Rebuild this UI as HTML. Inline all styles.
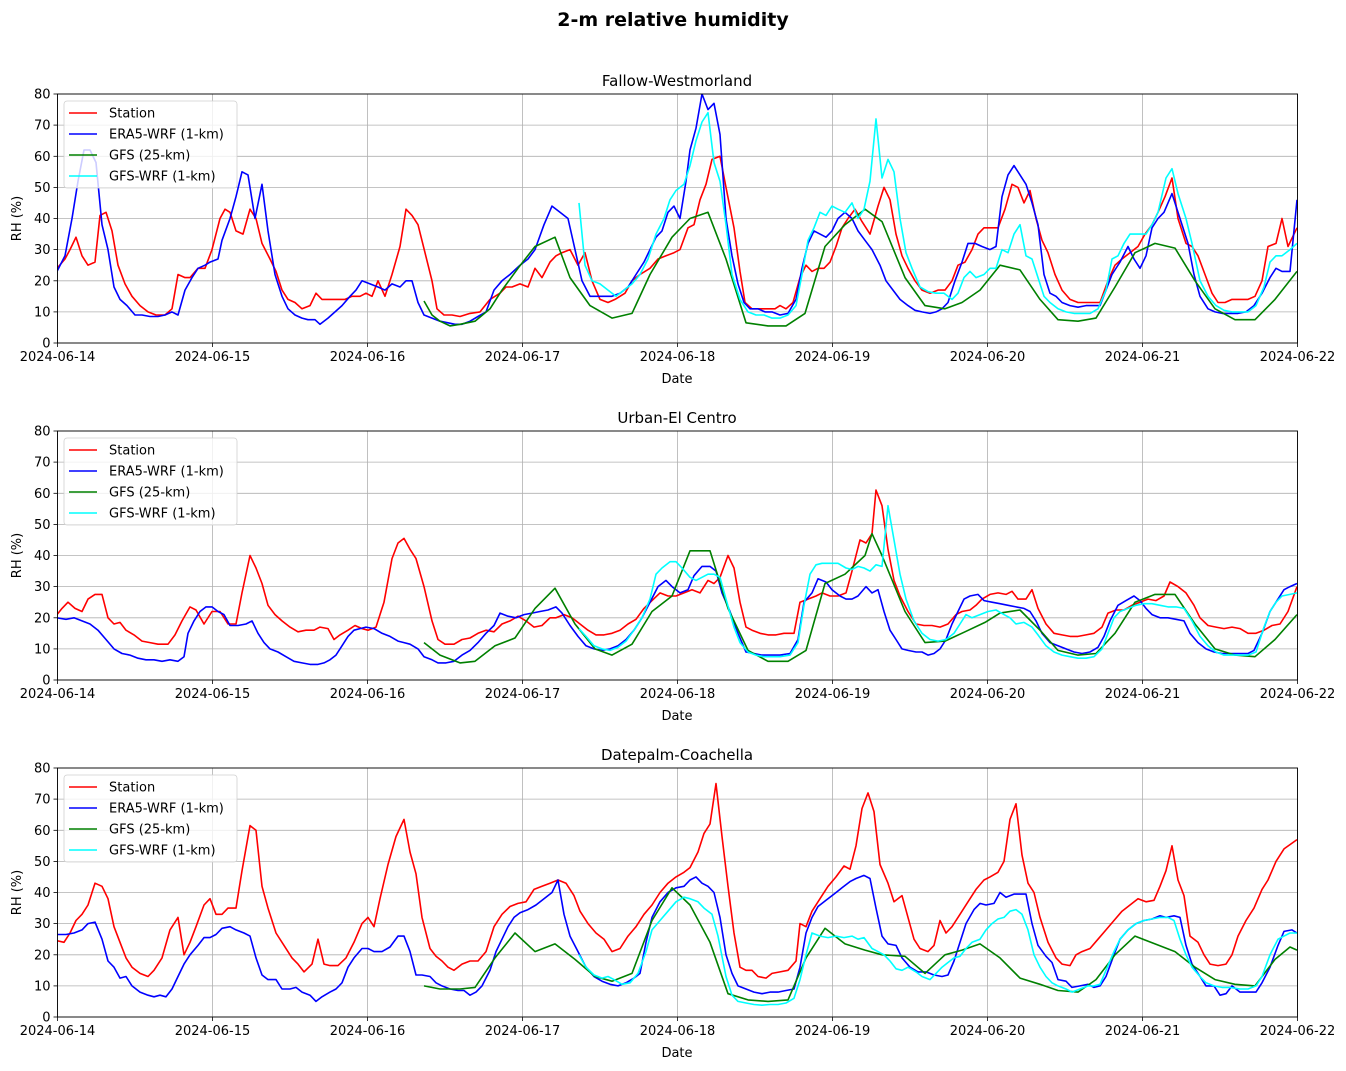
<!DOCTYPE html>
<html><head><meta charset="utf-8"><style>
html,body{margin:0;padding:0;background:#fff;}
svg{display:block;font-family:"DejaVu Sans","Liberation Sans",sans-serif;}
</style></head><body>
<svg id="s" width="1346" height="1071" viewBox="0 0 1346 1071" xmlns="http://www.w3.org/2000/svg">
<rect width="1346" height="1071" fill="#fff"/>
<text x="673" y="26" text-anchor="middle" font-size="19" font-weight="bold">2-m relative humidity</text>
</svg>
<script>
const L=57.5,R=1297.5,H=249;
const tops=[94,431,768];
const titles=["Fallow-Westmorland","Urban-El Centro","Datepalm-Coachella"];
const P=s=>s.trim().split(/\s*,\s*/).map(p=>p.split(':').map(Number));
const D=[
[
P(`57:24, 65:27, 70:30, 76:34, 82:28, 88:25, 95:26, 100:41, 106:42, 112:36, 118:25, 125:19, 132:15, 140:12, 148:10, 156:9, 165:9, 172:11, 178:22, 185:21, 190:21, 198:24, 205:24, 212:30, 220:40, 225:43, 230:42, 236:36, 243:35, 250:43, 256:40, 262:32, 270:27, 276:23, 282:17, 288:14, 295:13, 302:11, 310:12, 316:16, 322:14, 330:14, 338:14, 345:14, 352:15, 360:15, 366:16, 372:15, 378:20, 385:15, 392:22, 400:31, 406:43, 412:41, 418:38, 425:29, 432:20, 437:11, 444:9, 452:9, 460:8.5, 470:9.5, 480:10, 490:14, 500:16, 506:18, 512:18, 520:19, 528:18, 535:24, 542:21, 550:26, 556:28, 562:29, 570:30, 578:25, 585:29, 592:20, 600:14, 608:13, 615:14, 625:16, 632:20, 640:22, 650:24, 658:27, 666:28, 674:29, 680:30, 688:37, 694:38, 700:46, 706:51, 712:59, 720:60, 726:50, 734:37, 740:23, 745:13, 752:11, 760:11, 768:11, 775:11, 780:12, 786:11, 793:13, 800:21, 806:25, 812:23, 818:24, 824:24, 830:26, 836:31, 842:37, 848:40, 855:43, 862:39, 870:35, 878:44, 884:50, 890:46, 896:35, 902:28, 908:24, 915:20, 922:17, 930:16, 938:17, 945:17, 952:20, 958:25, 965:26, 972:30, 978:35, 984:37, 992:37, 998:37, 1005:43, 1012:51, 1018:50, 1024:45, 1030:49, 1036:40, 1042:33, 1048:29, 1055:22, 1062:17, 1070:14, 1078:13, 1085:13, 1092:13, 1100:13, 1108:20, 1115:25, 1122:27, 1130:29, 1138:31, 1145:35, 1152:38, 1158:42, 1165:47, 1172:53, 1178:40, 1186:32, 1192:31, 1198:28, 1205:22, 1212:16, 1218:13, 1225:13, 1232:14, 1240:14, 1248:14, 1255:15, 1262:20, 1268:31, 1276:32, 1282:40, 1288:31, 1297:37`),
P(`57:23, 65:28, 72:40, 78:52, 84:62, 90:62, 96:58, 102:38, 108:30, 114:18, 120:14, 127:12, 135:9, 142:9, 150:8.5, 158:8.5, 165:9, 172:10, 178:9, 185:17, 192:21, 198:24, 205:25, 210:26, 218:27, 222:33, 230:40, 236:47, 242:55, 248:54, 255:40, 262:51, 268:36, 275:22, 282:15, 288:11, 295:9, 302:8, 308:7.5, 315:7.5, 320:6, 328:8, 335:10, 342:12, 350:15, 356:17, 362:20, 370:19, 378:18, 385:17, 392:19, 400:18, 406:20, 412:20, 418:13, 424:9, 432:8, 440:7, 448:6.5, 455:6, 462:6, 470:7, 478:8.5, 486:10, 494:17, 502:20, 510:22, 520:25, 528:27, 535:30, 544:38, 552:44, 560:42, 568:40, 575:30, 582:20, 590:15, 598:15, 604:15, 612:15, 620:16, 628:18, 636:22, 644:26, 650:30, 656:34, 662:36, 668:42, 674:44, 680:40, 686:52, 690:62, 696:69, 702:80, 708:75, 714:77, 720:67, 726:40, 732:28, 738:19, 744:13, 750:11, 758:11, 765:10, 772:10, 780:9, 788:9.5, 796:14, 802:24, 808:32, 814:36, 820:35, 826:34, 832:36, 838:40, 845:42, 852:40, 858:36, 865:33, 872:30, 880:25, 886:20, 893:17, 900:14, 908:12, 915:10.5, 922:10, 930:9.5, 936:10, 942:11, 948:13, 955:20, 962:26, 968:32, 975:32, 982:31, 990:30, 996:31, 1002:47, 1008:54, 1014:57, 1020:54, 1026:51, 1032:45, 1038:38, 1044:22, 1050:16, 1056:15, 1062:13, 1070:12, 1078:11.5, 1086:12, 1094:12, 1100:12, 1106:17, 1112:22, 1120:26, 1128:31, 1134:27, 1140:24, 1146:28, 1152:37, 1158:40, 1164:42, 1172:48, 1180:40, 1188:32, 1194:22, 1200:15, 1208:11, 1215:10, 1222:9.5, 1230:9.5, 1238:9.5, 1246:10, 1254:12, 1262:16, 1270:21, 1276:24, 1282:23, 1290:23, 1297:46`),
P(`424:13.5, 432:9, 440:7, 450:5.5, 460:6, 475:7, 490:11, 502:17, 518:24, 535:31, 555:34, 570:21, 590:12, 612:8, 632:9.5, 650:22, 672:34, 690:40, 708:42, 726:27, 746:6.5, 768:5.5, 786:5.5, 805:9.5, 825:31, 845:38, 865:43, 882:39, 905:21, 925:12, 945:11, 962:13, 980:17, 1000:25, 1020:23.5, 1040:14, 1058:7.5, 1078:7, 1096:8, 1115:18, 1135:29, 1155:32, 1175:30.5, 1195:20, 1215:11, 1235:7.5, 1255:7.5, 1275:14, 1297:23`),
P(`579:45, 585:25, 592:20, 600:19, 608:17, 616:15, 624:17, 632:19, 640:22, 648:27, 656:35, 664:40, 670:46, 676:49, 684:51, 690:57, 696:65, 702:71, 708:74, 714:58, 720:52, 726:38, 732:22, 740:14, 748:10, 756:9, 764:9, 772:8, 780:8, 788:9, 796:12, 802:22, 808:33, 814:37, 820:42, 826:41, 832:44, 838:43, 845:42, 852:45, 858:40, 864:43, 870:52, 876:72, 882:53, 888:59, 894:55, 900:40, 906:29, 912:24, 920:18, 928:16.5, 936:16, 944:16, 952:14, 958:16, 964:21, 970:23, 976:21, 984:22, 990:24, 996:24, 1002:30, 1008:29, 1014:35, 1020:38, 1026:28, 1032:27, 1038:21, 1044:15, 1050:13, 1058:11, 1066:10, 1074:9.5, 1082:9.5, 1090:9.5, 1098:11, 1106:17, 1112:27, 1118:28, 1124:32, 1130:35, 1138:35, 1146:35, 1152:38, 1158:42, 1166:53, 1172:56, 1178:48, 1186:40, 1192:32, 1200:20, 1208:15, 1216:12, 1224:10.5, 1232:10, 1240:10, 1248:10, 1256:12, 1264:18, 1270:26, 1276:28, 1282:28, 1290:30, 1297:32`)
],[
P(`57:21, 62:23, 68:25, 75:23, 82:22, 88:26, 95:27.5, 102:27.5, 108:20, 114:18, 120:18.5, 126:16, 134:14.5, 142:12.5, 150:12, 158:11.5, 168:11.5, 175:14.5, 182:19, 190:23.5, 196:22.5, 204:18, 212:22, 220:22, 228:18, 236:18, 242:28, 250:40, 256:36, 262:31, 268:24, 275:21, 282:19, 290:17, 298:15.5, 306:16, 314:16, 320:17, 328:16.5, 334:13, 340:14.5, 348:16, 355:17.5, 362:16.5, 368:16, 376:17, 384:25, 392:39, 398:44, 404:45.5, 410:42, 416:39, 424:30, 432:19, 438:13, 445:11.5, 454:11.5, 462:13, 470:13.5, 478:15, 486:16, 494:15.5, 502:18, 510:19, 518:20.5, 526:19, 534:17, 542:17.5, 550:20, 556:20, 564:21, 572:20, 580:18, 588:16, 596:14.5, 604:14.5, 612:15, 620:16, 628:18, 636:19.5, 644:23, 652:25.5, 660:28, 668:27, 676:27, 684:28, 692:29, 700:28, 708:32, 714:31, 720:33, 728:40, 734:36, 740:25, 746:17, 752:16, 760:15, 768:14.5, 776:14.5, 784:15, 794:15, 800:25, 808:26, 816:27, 822:28, 830:27, 838:27, 846:28, 852:35, 860:45, 866:44, 872:47, 876:61, 882:56, 888:42, 894:32, 900:27, 908:22, 916:18, 924:17.5, 932:17.5, 940:17, 948:18, 956:21, 962:22, 970:22.5, 976:24, 982:26, 990:27.5, 998:28, 1006:27.5, 1012:28.5, 1018:26, 1026:26, 1032:29, 1038:23, 1046:18, 1054:15, 1062:14.5, 1070:14, 1078:14, 1086:14.5, 1094:15, 1102:17, 1108:21.5, 1116:22.5, 1124:22.5, 1132:24, 1140:25, 1148:26, 1156:25.5, 1164:27, 1170:31.5, 1178:30, 1186:28, 1194:24, 1200:20, 1208:17.5, 1216:17, 1224:16.5, 1232:17, 1240:16.5, 1248:15, 1256:15, 1264:16, 1272:17.5, 1280:18, 1288:22, 1297:30`),
P(`57:20, 66:19.5, 74:20, 82:19, 90:18, 98:16, 106:13, 114:10, 122:8.5, 130:8, 138:7, 146:6.5, 154:6.5, 162:6, 170:6.5, 178:6, 184:7.5, 188:15, 194:19, 200:22, 206:23.5, 212:23.5, 218:22, 224:21, 230:17.5, 238:17.5, 246:18, 252:19, 258:15, 264:12, 270:10, 278:9, 286:7.5, 294:6, 302:5.5, 310:5, 318:5, 324:5.5, 330:6.5, 336:8, 342:11, 348:14, 354:16, 360:16.5, 366:17, 374:16.5, 382:15, 390:14, 398:12.5, 404:12, 410:11.5, 418:10, 424:7.5, 432:6.5, 438:5.5, 446:5.5, 454:6, 462:8, 470:9.5, 478:12, 486:15, 494:17.5, 500:21.5, 508:20.5, 516:20, 524:21, 532:21.5, 540:22, 548:22.5, 556:23.5, 562:21.5, 570:17.5, 578:14, 586:11, 594:10, 602:9.5, 610:10, 618:11, 626:13, 634:16, 642:20, 650:25, 658:30, 666:32, 672:30, 680:28, 688:29, 694:33.5, 702:36.5, 710:36.5, 716:35, 722:28, 730:22, 738:15, 746:9, 754:8.5, 762:8, 770:8, 780:8, 790:8.5, 798:13, 804:25, 812:28, 818:32.5, 826:31.5, 832:29, 840:27, 846:26, 852:26, 858:27, 866:30, 872:28, 878:29, 884:22, 890:16, 896:13, 902:10, 908:9.5, 916:9, 922:9, 928:8, 934:8.5, 940:10, 946:13, 952:18, 958:22, 964:26, 970:27, 978:27.5, 984:25.5, 992:25, 1000:24.5, 1008:24, 1016:23.5, 1024:23, 1030:22, 1036:19, 1042:15, 1050:12, 1058:11, 1066:10, 1074:9, 1082:8.5, 1090:9, 1098:10.5, 1104:14, 1110:19, 1118:24, 1126:25.5, 1134:27, 1140:25.5, 1146:23, 1152:21, 1160:20, 1168:20, 1176:19.5, 1184:19, 1190:15, 1198:12, 1206:10, 1214:9, 1222:8.5, 1230:8.5, 1240:8.5, 1248:8.5, 1254:9.5, 1262:15, 1270:22, 1278:26, 1284:29, 1290:30, 1297:31`),
P(`424:12, 440:8, 460:5.5, 475:6, 495:11, 515:13.5, 535:23, 555:29.5, 575:18, 595:10, 612:8, 632:11.5, 652:22, 672:27, 690:41.5, 710:41.5, 728:23, 748:9.5, 768:6, 788:6, 806:9.5, 825:31, 845:34, 865:40, 872:47, 882:40, 905:22, 925:12, 945:12.5, 965:15.5, 985:18.5, 1000:21.5, 1020:22.5, 1040:16, 1058:9.5, 1078:8, 1096:8.5, 1115:15, 1135:25, 1155:27.5, 1175:27.5, 1195:18, 1215:10, 1235:8, 1255:7.5, 1275:13, 1297:21`),
P(`579:16.5, 586:14, 594:11, 602:10, 610:9.5, 618:10.5, 626:12.5, 634:16, 642:20, 650:26, 656:34, 662:36, 670:38, 676:38, 682:36, 690:33, 696:32, 702:33, 708:34, 714:34, 720:33, 726:26, 734:17, 740:12, 748:9, 756:8, 764:7.5, 772:7.5, 780:7.5, 790:8, 798:12, 804:24, 810:34, 816:37, 822:37.5, 830:37.5, 838:37.5, 846:36, 852:35.5, 858:36.5, 864:36, 870:35, 876:37, 882:36.5, 888:56, 894:45, 900:34, 906:26, 914:19, 922:15, 930:13, 938:12.5, 946:13, 954:15, 960:18, 966:21, 972:20, 980:21, 988:22, 996:22.5, 1004:21, 1010:20, 1016:18, 1024:18.5, 1032:17, 1038:14.5, 1046:11, 1054:9, 1062:8, 1070:7.5, 1078:7, 1086:7, 1094:7.5, 1102:10, 1108:15, 1114:20, 1120:22, 1128:23, 1136:24, 1144:24.5, 1152:24.5, 1160:24, 1168:23.5, 1176:23.5, 1184:23, 1192:19, 1200:14, 1208:11, 1216:9, 1224:8, 1232:8, 1240:8, 1248:8, 1256:9, 1264:17, 1270:22, 1276:25, 1282:27, 1290:27.5, 1297:28`)
],[
P(`57:24.5, 64:24, 70:27, 76:31, 82:33, 88:36, 95:43, 102:42, 108:38, 114:29, 120:24, 126:19, 132:16, 140:14, 148:13, 154:15, 162:19, 170:28, 178:32, 184:20, 190:24, 196:29, 204:36, 210:38, 216:33, 222:33, 228:35, 236:35, 242:47, 250:61.5, 256:60, 262:42, 268:35, 276:27, 284:23, 292:19, 298:17, 304:14.5, 312:17, 318:25, 324:17, 330:16.5, 338:16.5, 346:19, 354:24, 362:30, 368:32, 374:29, 380:38, 388:49, 396:58, 404:63.5, 410:53, 416:46, 422:32, 430:22, 436:19.5, 442:18, 448:16, 454:15, 462:17, 470:18, 478:18, 486:21, 494:29, 502:33, 510:35.5, 518:36.5, 526:37, 534:41, 542:42, 550:43, 558:44, 566:43, 574:39, 580:34, 588:30, 596:27, 604:25, 612:21, 620:22, 628:26, 636:29, 644:33, 652:36, 660:40, 668:43, 676:45, 684:46.5, 690:48, 698:53, 704:59, 710:62, 716:75, 722:58, 728:42, 734:27, 740:16, 746:15, 752:15, 758:13, 766:12.5, 772:14, 780:14.5, 788:15, 796:18, 800:30, 806:29, 812:34, 820:38, 828:42, 836:45, 844:48.5, 850:47.5, 856:55, 862:67, 868:72, 874:66, 880:49, 888:43, 894:37, 902:39, 908:32, 914:25, 920:22, 928:21, 934:23, 940:31, 946:27, 952:29, 960:33, 968:37, 976:41, 984:44, 990:45, 998:46.5, 1004:50, 1010:63.5, 1016:68.5, 1022:52, 1028:43, 1034:40, 1040:32, 1048:24, 1056:19, 1062:17, 1070:16.5, 1076:20, 1082:21, 1090:22, 1098:25, 1106:28, 1114:31, 1122:34, 1130:36, 1138:38, 1146:37, 1154:37.5, 1160:42, 1166:47, 1172:55, 1178:44, 1184:39, 1190:26, 1198:24, 1204:20, 1210:17, 1218:16.5, 1226:17, 1232:20, 1238:26, 1246:31, 1254:35, 1262:41, 1268:44, 1276:50, 1284:54, 1297:57`),
P(`57:26.5, 66:26.5, 74:27, 82:28, 88:30, 95:30.5, 102:25, 108:18, 114:16, 120:12.5, 126:13, 132:10, 140:8, 148:7, 154:6.5, 160:7, 166:6.5, 172:9, 178:13, 184:17, 190:20, 198:23, 204:25.5, 210:25.5, 216:26.5, 222:28.5, 230:29, 236:28, 244:27, 250:26, 256:19, 262:13.5, 268:12, 276:12, 282:9, 290:9, 296:9.5, 302:8, 310:7, 316:5, 322:6.5, 330:8, 336:9, 342:11, 348:16, 354:19, 362:22, 368:22, 374:21, 382:21, 390:22.5, 398:26, 404:26, 410:21, 416:13.5, 422:13.5, 430:13, 436:11, 442:10, 450:9, 458:8.5, 464:8.5, 470:7, 476:8, 482:10, 490:15, 496:21, 502:25, 508:29, 514:32, 520:33.5, 528:34.5, 536:36, 544:38, 552:40, 558:44, 564:33, 570:26, 578:21, 586:16, 594:13, 602:11.5, 610:10.5, 618:10, 626:11, 634:12.5, 640:14, 646:24, 652:32, 660:37, 668:40, 676:41.5, 684:42, 690:44, 696:45, 702:43, 708:42, 714:40, 720:32, 726:20, 732:14, 738:10, 746:9, 754:8, 762:7.5, 770:8, 778:8, 786:8.5, 794:9, 800:16, 806:27, 812:32, 818:35.5, 826:37.5, 834:39.5, 842:41.5, 850:43.5, 856:44.5, 864:45.5, 870:44.5, 876:35, 882:26, 888:23.5, 896:23, 902:19, 910:16, 918:14.5, 926:14.5, 934:13.5, 942:13, 948:13.5, 954:18, 960:24, 966:30, 974:34.5, 980:36.5, 986:36, 994:36.5, 1000:40, 1006:38.5, 1014:39.5, 1020:39.5, 1026:39.5, 1032:30, 1038:23, 1046:19.5, 1052:17.5, 1058:12, 1066:11.5, 1072:9.5, 1080:10, 1088:10.5, 1094:9.5, 1100:10, 1106:13, 1114:20, 1120:25, 1128:28, 1136:30, 1144:31, 1152:31.5, 1160:32.5, 1166:32, 1174:32.5, 1180:32, 1186:23, 1192:17, 1200:13, 1206:10, 1214:10, 1220:7, 1226:7.5, 1232:10, 1240:8, 1248:8, 1256:8, 1262:11, 1270:16, 1278:23, 1284:27.5, 1292:28, 1297:27`),
P(`424:10, 440:9, 460:9, 475:9.5, 495:19, 515:27, 535:21, 555:23.5, 575:18.5, 595:13, 612:11.5, 632:14, 652:31, 672:41.5, 690:36, 710:24, 728:7.5, 748:5.5, 768:5, 788:5.5, 806:19, 825:28.5, 845:23.5, 865:21.5, 882:20, 905:19.5, 925:14, 945:20, 962:21.5, 980:23.5, 1000:19, 1020:12.5, 1040:10.5, 1058:8.5, 1078:8, 1096:12, 1115:20, 1135:26, 1155:23.5, 1175:21, 1195:16, 1215:12, 1235:10.5, 1255:10, 1275:18.5, 1290:22.5, 1297:21.5`),
P(`579:20, 586:16, 594:13.5, 602:12.5, 608:13, 614:12, 622:10.5, 630:11, 638:14, 646:21, 652:28, 660:31, 668:34, 676:37, 684:38.5, 690:38, 698:37, 704:35, 712:33, 718:26, 726:13, 732:7, 738:5, 746:4.5, 754:4, 762:3.8, 770:4, 778:4, 786:4.5, 794:6, 800:12, 806:20, 812:27, 820:26, 828:25.5, 836:26, 844:25.5, 852:26, 858:25, 864:25.5, 872:22, 878:21, 884:20, 890:18, 896:15.5, 902:15, 908:16, 916:14.5, 922:13, 930:12, 936:14, 942:16, 948:17.5, 954:19, 960:19.5, 966:22, 972:24, 980:25, 986:28, 992:30, 998:31.5, 1004:32, 1010:34, 1016:34.5, 1022:33, 1028:28, 1034:20, 1040:16, 1046:13, 1052:11, 1058:10, 1066:9, 1072:8, 1080:9, 1088:10, 1094:10, 1100:10.5, 1106:15, 1114:21, 1120:25, 1128:28, 1136:30, 1144:31, 1152:31.5, 1160:32, 1168:32, 1174:31, 1180:25, 1186:20, 1192:16, 1200:13, 1206:11, 1214:10, 1222:9.5, 1230:9.5, 1240:9, 1248:9, 1256:10, 1262:13, 1270:20, 1278:25, 1284:26, 1290:27, 1297:27`)
]];
const cols=["#ff0000","#0000ff","#008000","#00ffff"];
const names=["Station","ERA5-WRF (1-km)","GFS (25-km)","GFS-WRF (1-km)"];
const dates=["2024-06-14","2024-06-15","2024-06-16","2024-06-17","2024-06-18","2024-06-19","2024-06-20","2024-06-21","2024-06-22"];
let h='';
tops.forEach((T,i)=>{
  const B=T+H, y=v=>(B-v*H/80).toFixed(1);
  h+=`<text x="677" y="${T-8}" text-anchor="middle" font-size="15">${titles[i]}</text>`;
  h+=`<defs><clipPath id="c${i}"><rect x="${L}" y="${T}" width="${R-L}" height="${H}"/></clipPath></defs>`;
  for(let d=0;d<=8;d++){const x=L+d*(R-L)/8;
    h+=`<line x1="${x}" y1="${T}" x2="${x}" y2="${B}" stroke="#b0b0b0" stroke-width="0.8"/>`;
    h+=`<line x1="${x}" y1="${B}" x2="${x}" y2="${B+4}" stroke="#000" stroke-width="0.8"/>`;
    h+=`<text x="${x}" y="${B+18}" text-anchor="middle" font-size="13">${dates[d]}</text>`;}
  for(let v=0;v<=80;v+=10){const yy=y(v);
    h+=`<line x1="${L}" y1="${yy}" x2="${R}" y2="${yy}" stroke="#b0b0b0" stroke-width="0.8"/>`;
    h+=`<line x1="${L-4}" y1="${yy}" x2="${L}" y2="${yy}" stroke="#000" stroke-width="0.8"/>`;
    h+=`<text x="${L-7}" y="${+yy+4.5}" text-anchor="end" font-size="13">${v}</text>`;}
  h+=`<g clip-path="url(#c${i})">`;
  D[i].forEach((s,k)=>{h+=`<polyline fill="none" stroke="${cols[k]}" stroke-width="1.6" stroke-linejoin="round" points="${s.map(p=>p[0]+','+y(p[1])).join(' ')}"/>`;});
  h+=`</g>`;
  h+=`<rect x="${L}" y="${T}" width="${R-L}" height="${H}" fill="none" stroke="#000" stroke-width="0.9"/>`;
  h+=`<text transform="translate(21,${T+H/2}) rotate(-90)" text-anchor="middle" font-size="13">RH (%)</text>`;
  h+=`<text x="677" y="${B+40}" text-anchor="middle" font-size="13">Date</text>`;
  h+=`<rect x="64" y="${T+7}" width="173" height="87" rx="3" fill="#fff" fill-opacity="0.8" stroke="#d0d0d0" stroke-width="0.8"/>`;
  names.forEach((n,k)=>{const yy=T+19+k*21;
    h+=`<line x1="69" y1="${yy}" x2="97" y2="${yy}" stroke="${cols[k]}" stroke-width="1.6"/>`;
    h+=`<text x="109" y="${yy+4.5}" font-size="13">${n}</text>`;});
});
document.getElementById('s').insertAdjacentHTML('beforeend',h);
</script>
</body></html>
